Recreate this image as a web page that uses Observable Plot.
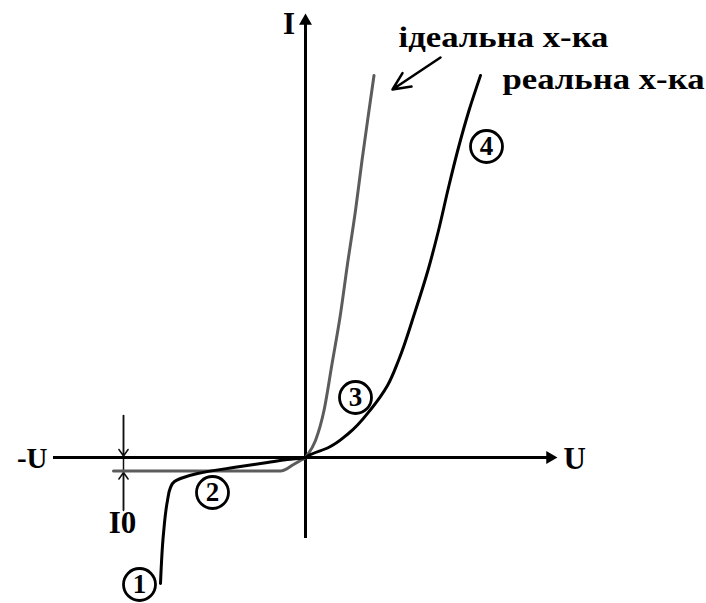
<!DOCTYPE html>
<html>
<head>
<meta charset="utf-8">
<script src="https://cdn.jsdelivr.net/npm/d3@7"></script>
<script src="https://cdn.jsdelivr.net/npm/@observablehq/plot@0.6"></script>
<style>
  html, body { margin: 0; padding: 0; background: #fff; }
  #chart svg { display: block; }
</style>
</head>
<body>
<div id="chart"></div>
<script>
// Ideal diode characteristic (grey)
const idealU = [-3.84, -0.50, -0.24, -0.10, 0, 0.03, 0.20, 0.37, 0.53, 0.70, 0.84, 1.00, 1.13, 1.27, 1.37];
const idealI = [-0.27, -0.27, -0.14, -0.06, 0, 0.04, 0.34, 0.94, 1.87, 2.87, 3.87, 4.94, 5.94, 6.94, 7.64];

// Real diode characteristic (black)
const realU = [-2.90, -2.84, -2.76, -2.70, -2.62, -2.50, -2.16, -1.44, -0.76, -0.36, 0, 0.06, 0.46, 0.86, 1.32, 1.64, 1.86, 2.18, 2.46, 2.66, 2.86, 3.06, 3.27, 3.50];
const realI = [-2.52, -1.52, -0.86, -0.60, -0.48, -0.42, -0.32, -0.20, -0.10, -0.04, 0, 0.04, 0.20, 0.48, 0.98, 1.44, 1.94, 2.88, 3.78, 4.54, 5.40, 6.20, 6.94, 7.64];

// Axes extents
const axisU = [-5.04, 5.04];
const axisI = [-1.62, 8.88];

// Region markers (numbered circles)
const regionLabels = ["1", "2", "3", "4"];
const regionU = [-3.32, -1.86, 1.00, 3.62];
const regionI = [-2.54, -0.70, 1.20, 6.22];

// Reverse saturation current I0 marker
const i0U = -3.64;
const i0Level = -0.27;
const i0Span = [0.84, -1.06];

// Text labels
const labelI = {text: "I", u: -0.33, i: 8.48};
const labelNegU = {text: "-U", u: -5.16, i: -0.20};
const labelU = {text: "U", u: 5.16, i: -0.22};
const labelI0 = {text: "I0", u: -3.66, i: -1.50};
const curveLabels = [
  {text: "ідеальна х-ка", u: 1.86, i: 8.22},
  {text: "реальна х-ка", u: 3.94, i: 7.38}
];
const curveLabelWidths = [210, 202];
const pointer = {u1: 2.70, i1: 8.00, u2: 1.74, i2: 7.36};

const ideal = idealU.map((u, k) => ({u, i: idealI[k]}));
const real = realU.map((u, k) => ({u, i: realI[k]}));
const regions = regionLabels.map((t, k) => ({t, u: regionU[k], i: regionI[k]}));

const font = "'Liberation Serif', 'Times New Roman', serif";
const labelStyle = {x: "u", y: "i", text: "text", lineAnchor: "bottom", fontSize: 31, fontWeight: "bold", fill: "#000"};

const chart = Plot.plot({
  width: 706,
  height: 603,
  margin: 0,
  x: {domain: [-6.1, 8.02], axis: null},
  y: {domain: [-2.92, 9.14], axis: null},
  style: {fontFamily: font, background: "#fff"},
  marks: [
    // I0 marker
    Plot.ruleX([i0U], {y1: i0Span[0], y2: i0Span[1], stroke: "#111", strokeWidth: 1.5}),
    Plot.arrow([{y1: i0Span[0], y2: 0.03}], {x1: i0U, x2: i0U, y1: "y1", y2: "y2", stroke: "#111", strokeWidth: 1.5, headLength: 8, headAngle: 70}),
    Plot.arrow([{y1: i0Span[1], y2: i0Level - 0.03}], {x1: i0U, x2: i0U, y1: "y1", y2: "y2", stroke: "#111", strokeWidth: 1.5, headLength: 8, headAngle: 70}),
    // axes
    Plot.ruleY([0], {x1: axisU[0], x2: axisU[1] - 0.1, stroke: "#000", strokeWidth: 3}),
    Plot.ruleX([0], {y1: axisI[0], y2: axisI[1] - 0.1, stroke: "#000", strokeWidth: 3}),
    Plot.dot([{u: axisU[1] - 0.15, i: 0}], {x: "u", y: "i", symbol: "triangle", r: 4.8, fill: "#000", stroke: null, rotate: 90}),
    Plot.dot([{u: 0, i: axisI[1] - 0.15}], {x: "u", y: "i", symbol: "triangle", r: 4.8, fill: "#000", stroke: null}),
    // curves
    Plot.line(ideal, {x: "u", y: "i", stroke: "#5c5c5c", strokeWidth: 3, curve: "monotone-x"}),
    Plot.line(real, {x: "u", y: "i", stroke: "#000", strokeWidth: 3, curve: "monotone-y"}),
    // pointer arrow
    Plot.arrow([pointer], {x1: "u1", y1: "i1", x2: "u2", y2: "i2", stroke: "#000", strokeWidth: 2.5, headLength: 12, headAngle: 50}),
    // region circles
    Plot.dot(regions, {x: "u", y: "i", r: 16, fill: "#fff", stroke: "#000", strokeWidth: 2.8}),
    Plot.text(regions, {x: "u", y: "i", text: "t", fontSize: 27, fontWeight: "bold", fill: "#000", lineAnchor: "middle", textAnchor: "middle"}),
    // labels
    Plot.text([labelI, labelI0], {...labelStyle, textAnchor: "middle"}),
    Plot.text([labelNegU], {...labelStyle, textAnchor: "end", fontSize: 29}),
    Plot.text([labelU], {...labelStyle, textAnchor: "start"}),
    Plot.text(curveLabels, {x: "u", y: "i", text: "text", textAnchor: "start", lineAnchor: "bottom", fontSize: 30, fontWeight: "bold", fill: "#000"})
  ]
});
// stretch the curve captions to the reference's wide lettering
d3.select(chart).selectAll("text").each(function() {
  const k = curveLabels.findIndex(l => l.text === this.textContent);
  if (k >= 0) {
    this.setAttribute("textLength", curveLabelWidths[k]);
    this.setAttribute("lengthAdjust", "spacingAndGlyphs");
  }
});
document.getElementById("chart").append(chart);
</script>
</body>
</html>
